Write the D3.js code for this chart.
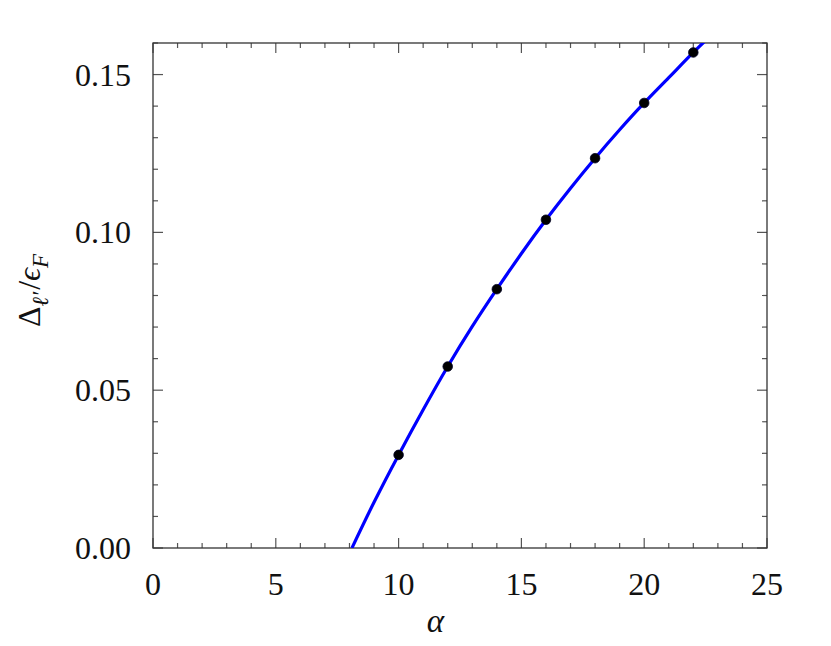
<!DOCTYPE html>
<html>
<head>
<meta charset="utf-8">
<script src="https://cdn.jsdelivr.net/npm/d3@7"></script>
<style>
  body { margin: 0; background: #fff; }
  svg text { font-family: 'Liberation Serif', 'DejaVu Serif', serif; fill: #111; }
</style>
</head>
<body>
<div id="chart"></div>
<script>
// sampled values
const alphaPts = [10, 12, 14, 16, 18, 20, 22];
const deltaPts = [0.0295, 0.0575, 0.082, 0.104, 0.1235, 0.141, 0.157];

// fitted curve
const curveAlpha = [8.1, 9, 10, 11, 12, 13, 14, 15, 16, 17, 18, 19, 20, 21, 22, 23];
const curveDelta = [0, 0.0145, 0.0295, 0.0438, 0.0575, 0.0702, 0.082, 0.0933, 0.104, 0.114, 0.1235, 0.1325, 0.141, 0.149, 0.157, 0.1645];

const xTicks = [0, 5, 10, 15, 20, 25];
const yTicks = [0, 0.05, 0.10, 0.15];

const width = 831, height = 646;
const margin = {top: 43, right: 64, bottom: 98, left: 153};
const w = width - margin.left - margin.right,
    h = height - margin.top - margin.bottom;

const svg = d3.select("#chart").append("svg")
    .attr("width", width)
    .attr("height", height);

const g = svg.append("g")
    .attr("transform", "translate(" + margin.left + "," + margin.top + ")");

let x = d3.scaleLinear().domain([0, 25]).range([0, w]);
let y = d3.scaleLinear().domain([0, 0.16]).range([h, 0]);

g.append("clipPath").attr("id", "clip")
    .append("rect").attr("width", w).attr("height", h);

// ticks on all four sides, pointing in
const minorX = d3.range(0, 25.001, 1),
    minorY = d3.range(0, 0.1601, 0.01);
const tickCol = "#555";

minorX.forEach(function(v) {
    let major = Math.abs(v % 5) < 1e-6;
    let len = major ? 10 : 5;
    g.append("line").attr("x1", x(v)).attr("x2", x(v)).attr("y1", h).attr("y2", h - len)
        .attr("stroke", tickCol).attr("stroke-width", 1.2);
    g.append("line").attr("x1", x(v)).attr("x2", x(v)).attr("y1", 0).attr("y2", len)
        .attr("stroke", tickCol).attr("stroke-width", 1.2);
});
minorY.forEach(function(v) {
    let major = Math.abs(Math.round(v * 100) % 5) === 0;
    let len = major ? 10 : 5;
    g.append("line").attr("y1", y(v)).attr("y2", y(v)).attr("x1", 0).attr("x2", len)
        .attr("stroke", tickCol).attr("stroke-width", 1.2);
    g.append("line").attr("y1", y(v)).attr("y2", y(v)).attr("x1", w).attr("x2", w - len)
        .attr("stroke", tickCol).attr("stroke-width", 1.2);
});

g.append("rect")
    .attr("width", w).attr("height", h)
    .attr("fill", "none").attr("stroke", "#333").attr("stroke-width", 1.3);

// tick labels
g.selectAll("text.xt").data(xTicks).enter().append("text")
    .attr("class", "xt")
    .attr("x", d => x(d)).attr("y", h + 47)
    .attr("text-anchor", "middle")
    .style("font-size", "32px")
    .text(d => d);

g.selectAll("text.yt").data(yTicks).enter().append("text")
    .attr("class", "yt")
    .attr("x", -22).attr("y", d => y(d) + 11)
    .attr("text-anchor", "end")
    .style("font-size", "32px")
    .text(d => d3.format(".2f")(d));

// axis titles
g.append("text")
    .attr("x", x(11.5)).attr("y", h + 84)
    .attr("text-anchor", "middle")
    .style("font-size", "33px").style("font-style", "italic")
    .text("α");

let yl = svg.append("text")
    .attr("transform", "translate(40," + (margin.top + h / 2 - 5) + ") rotate(-90)")
    .attr("text-anchor", "middle")
    .style("font-size", "32px");
yl.append("tspan").text("Δ");
yl.append("tspan").attr("dy", 8).style("font-size", "23px").style("font-style", "italic").text("ℓ′");
yl.append("tspan").attr("dy", -8).attr("dx", 2).text("/");
yl.append("tspan").style("font-style", "italic").text("ϵ");
yl.append("tspan").attr("dy", 8).style("font-size", "23px").style("font-style", "italic").text("F");

// curve
const line = d3.line()
    .x(d => x(d[0]))
    .y(d => y(d[1]))
    .curve(d3.curveNatural);

g.append("path")
    .datum(d3.zip(curveAlpha, curveDelta))
    .attr("clip-path", "url(#clip)")
    .attr("d", line)
    .attr("fill", "none")
    .attr("stroke", "#0000ff")
    .attr("stroke-width", 3.2);

// points
g.selectAll("circle").data(d3.zip(alphaPts, deltaPts)).enter().append("circle")
    .attr("cx", d => x(d[0]))
    .attr("cy", d => y(d[1]))
    .attr("r", 4.8)
    .attr("fill", "#000")
    .attr("stroke", "#000022")
    .attr("stroke-width", 0.8);
</script>
</body>
</html>
